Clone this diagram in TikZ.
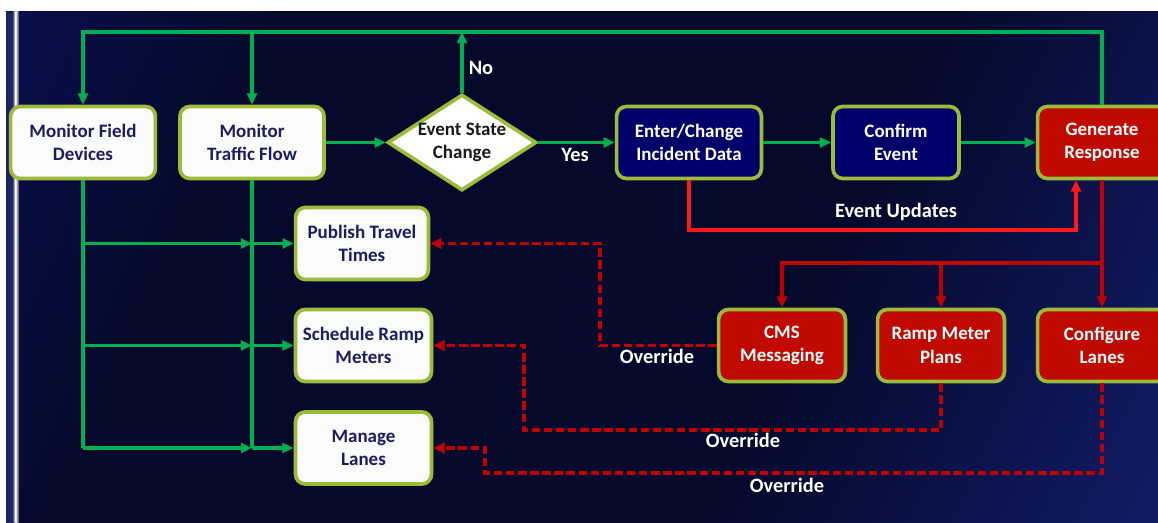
\documentclass[tikz,border=0pt]{standalone}
\usepackage{fontspec}
\setmainfont{Carlito}
\usepackage{xcolor}
\definecolor{FlowGreen}{HTML}{00B050}
\definecolor{EdgeOlive}{HTML}{9DBB3A}
\definecolor{BoxNavy}{HTML}{00006B}
\definecolor{RespRed}{HTML}{C00A00}
\definecolor{UpdRed}{HTML}{FF1A1A}
\definecolor{LinkRed}{HTML}{C00000}
\definecolor{InkNavy}{HTML}{1C1C62}
\definecolor{BgTop}{HTML}{0E1273}
\definecolor{BgDark}{HTML}{050A2C}
\definecolor{BgBlue}{HTML}{1B2A94}
\definecolor{StripNavy}{HTML}{1E2566}
\usetikzlibrary{arrows.meta,calc,shapes.geometric}
\pgfdeclarehorizontalshading{slidebg}{100bp}{color(0bp)=(BgTop); color(30bp)=(BgDark); color(62bp)=(BgDark); color(100bp)=(BgBlue)}
\tikzset{
  procbox/.style={
    draw=EdgeOlive,
    fill=white!97!gray,
    rounded corners=7pt,
    line width=2.6pt,
    minimum height=1.8cm,
    inner sep=2pt,
    align=center,
    text=InkNavy,
    font=\fontsize{13.5}{16.5}\selectfont\bfseries
  },
  navybox/.style={
    procbox,
    fill=BoxNavy,
    text=white
  },
  respbox/.style={
    procbox,
    fill=RespRed,
    text=white
  },
  decision/.style={
    diamond,
    aspect=1.55,
    draw=EdgeOlive,
    fill=white,
    line width=2.6pt,
    minimum width=3.7cm,
    minimum height=2.4cm,
    inner sep=0pt,
    align=center,
    text=black!90,
    font=\fontsize{13.5}{16.5}\selectfont\bfseries
  },
  note/.style={
    text=white,
    font=\fontsize{14.5}{16}\selectfont\bfseries
  },
  flowline/.style={
    draw=FlowGreen,
    line width=2.3pt
  },
  flowarrow/.style={
    flowline,
    -{Triangle[length=8pt,width=7pt]}
  },
  updline/.style={
    draw=UpdRed,
    line width=2.3pt,
    -{Triangle[length=8pt,width=7pt]}
  },
  branchline/.style={
    draw=LinkRed,
    line width=2.3pt,
    -{Triangle[length=8pt,width=7pt]}
  },
  overline/.style={
    draw=LinkRed,
    line width=2.4pt,
    dash pattern=on 6pt off 2.6pt,
    -{Triangle[length=8pt,width=7.5pt]}
  }
}

\begin{document}
\begin{tikzpicture}[x=0.025cm,y=-0.025cm]
  \useasboundingbox (0,0) rectangle (1158,523);
  % backdrop
  \fill[white] (0,0) rectangle (1158,523);
  \fill[shading=slidebg,shading angle=-25] (6,12) rectangle (1158,523);
  \fill[StripNavy] (6,12) rectangle (13,523);
  \shade[left color=StripNavy!40!gray,right color=white] (13,12) rectangle (15.5,523);
  \shade[left color=white,right color=BgDark!70!gray] (15.5,12) rectangle (19,523);

  % top row
  \node[procbox,minimum width=3.62cm] (field) at (83,142.5) {Monitor Field\\Devices};
  \node[procbox,minimum width=3.6cm] (flow) at (252,142.5) {Monitor\\Traffic Flow};
  \node[decision] (esc) at (462,142.5) {Event State\\Change};
  \node[navybox,minimum width=3.62cm] (enter) at (689,142.5) {Enter/Change\\Incident Data};
  \node[navybox,minimum width=3.15cm] (confirm) at (896,142.5) {Confirm\\Event};
  \node[respbox,minimum width=3.22cm] (gen) at (1102,142.5) {Generate\\Response};

  % outputs
  \node[procbox,minimum width=3.32cm] (publish) at (362,243.5) {Publish Travel\\Times};
  \node[procbox,minimum width=3.4cm] (schedule) at (363.5,345.5) {Schedule Ramp\\Meters};
  \node[procbox,minimum width=3.4cm] (lanes) at (363.5,448) {Manage\\Lanes};
  \node[respbox,minimum width=3.17cm] (cms) at (782,345.5) {CMS\\Messaging};
  \node[respbox,minimum width=3.17cm] (ramp) at (941,345.5) {Ramp Meter\\Plans};
  \node[respbox,minimum width=3.22cm] (cfg) at (1102,345.5) {Configure\\Lanes};

  \coordinate (topline) at (0,32);
  \coordinate (updy) at (0,230);
  \coordinate (branchy) at (0,263);
  \coordinate (genin) at ($(gen.south)+(-26,0)$);

  % green loop
  \draw[flowarrow] (gen.north) |- (field.north |- topline) -- (field.north);
  \draw[flowarrow] (flow.north |- topline) -- (flow.north);
  \draw[flowarrow] (esc.north) -- (esc.north |- topline);
  \node[note] (nolbl) at (481,68) {No};
  \draw[flowarrow] (flow.east) -- (esc.west);
  \draw[flowarrow] (esc.east) -- (enter.west);
  \node[note] (yeslbl) at (575,155) {Yes};
  \draw[flowarrow] (enter.east) -- (confirm.west);
  \draw[flowarrow] (confirm.east) -- (gen.west);
  \draw[flowline] (field.south) -- (field.south |- lanes.west);
  \draw[flowline] (flow.south) -- (flow.south |- lanes.west);
  \foreach \target in {publish,schedule,lanes}{
    \draw[flowarrow] (field.south |- \target.west) -- (flow.south |- \target.west);
    \draw[flowarrow] (flow.south |- \target.west) -- (\target.west);
  }

  % red responses
  \draw[updline] (enter.south) |- (genin |- updy) -- (genin);
  \node[note] (updlbl) at (896,212) {Event Updates};
  \draw[branchline] (gen.south) -- (cfg.north);
  \draw[branchline] (gen.south |- branchy) -| (cms.north);
  \draw[branchline] (ramp.north |- branchy) -- (ramp.north);

  % overrides
  \coordinate (cmsbend) at (600,345.5);
  \coordinate (rampbend) at (524,430);
  \coordinate (cfgbend) at (485,473);
  \draw[overline] (cms.west) -- (cmsbend) |- (publish.east);
  \draw[overline] (ramp.south) |- (rampbend) |- (schedule.east);
  \draw[overline] (cfg.south) |- (cfgbend) |- (lanes.east);
  \node[note] (ovr1) at (657,356) {Override};
  \node[note] (ovr2) at (743,440) {Override};
  \node[note] (ovr3) at (787,485) {Override};
\end{tikzpicture}
\end{document}
